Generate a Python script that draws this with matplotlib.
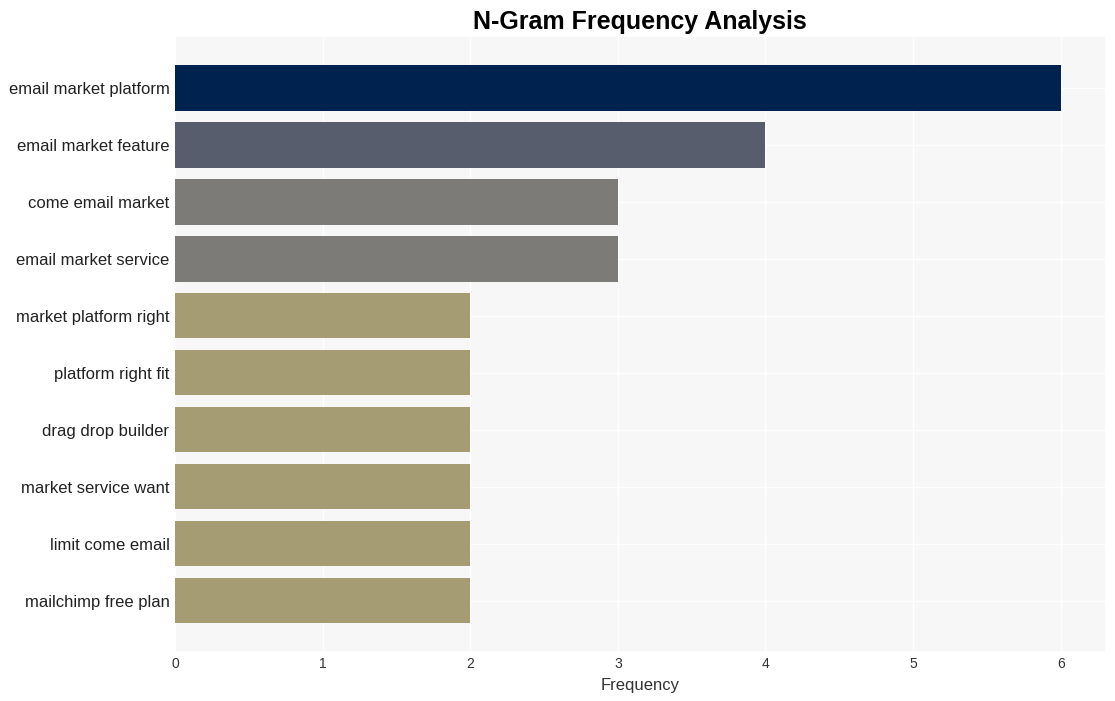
import matplotlib
matplotlib.use("Agg")
import matplotlib.pyplot as plt

plt.rcParams['font.family'] = ['Liberation Sans', 'DejaVu Sans']

ngrams = ["email market platform", "email market feature", "come email market",
          "email market service", "market platform right", "platform right fit",
          "drag drop builder", "market service want", "limit come email",
          "mailchimp free plan"]
counts = [6, 4, 3, 3, 2, 2, 2, 2, 2, 2]
colors = ["#00224e", "#575d6d", "#7c7b78", "#7c7b78", "#a59c74",
          "#a59c74", "#a59c74", "#a59c74", "#a59c74", "#a59c74"]

fig, ax = plt.subplots(figsize=(11.15, 7.01), dpi=100)
fig.subplots_adjust(left=0.157, right=0.991, top=0.947, bottom=0.071)

pos = list(range(len(ngrams)))
ax.barh(pos, counts, height=0.8, color=colors, zorder=2)
ax.set_yticks(pos)
ax.set_yticklabels(ngrams, fontsize=12, color="#222222")
ax.invert_yaxis()
ax.set_xlim(0, 6.3)

ax.set_facecolor("#f7f7f7")
ax.grid(True, color="white", linewidth=1, zorder=0)
ax.set_axisbelow(True)
for s in ax.spines.values():
    s.set_visible(False)
ax.tick_params(axis="both", length=0)
ax.tick_params(axis="x", labelsize=10, colors="#333333", pad=4)
ax.tick_params(axis="y", pad=4)

ax.set_xlabel("Frequency", fontsize=12, color="#333333", labelpad=5)
ax.set_title("N-Gram Frequency Analysis", fontsize=18, fontweight="bold", pad=6)

fig.savefig("out.png", dpi=100)
